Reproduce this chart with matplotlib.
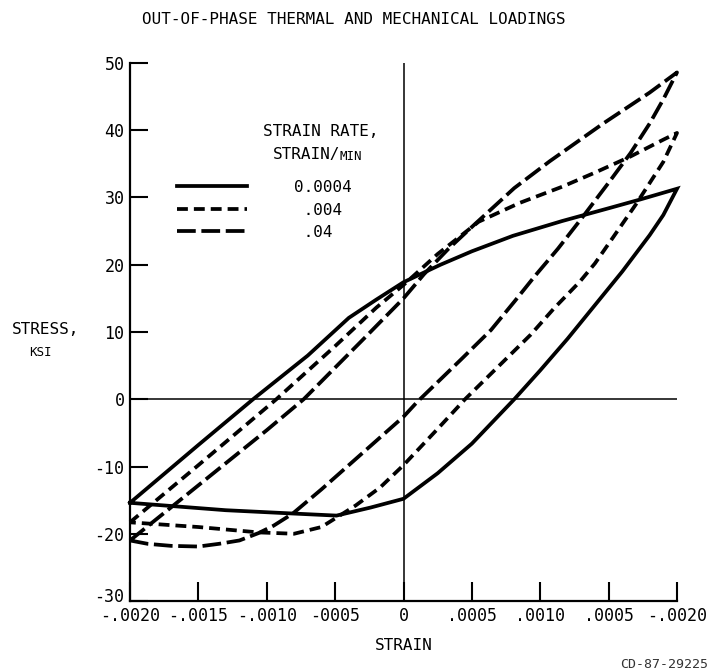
import matplotlib
matplotlib.use('Agg')
import matplotlib.pyplot as plt
import matplotlib.transforms as mtransforms

# Hysteresis loops: loading branch from -0.0020 up to +0.0020, then unloading back
strain_slow = [-0.0020, -0.0015, -0.0011, -0.0007, -0.0004, -0.0002, 0.0, 0.00027, 0.0005, 0.0008,
               0.00116, 0.0015, 0.00173, 0.0020,
               0.0019, 0.0018, 0.0016, 0.0014, 0.0012, 0.0010, 0.00081, 0.0005, 0.00025, 0.0,
               -0.00024, -0.00049, -0.0008, -0.0013, -0.0020]
stress_slow = [-15.4, -6.8, 0.0, 6.5, 12.1, 14.8, 17.4, 20.0, 22.0, 24.3,
               26.5, 28.4, 29.7, 31.3,
               27.4, 24.4, 19.0, 14.0, 9.0, 4.3, 0.0, -6.6, -11.0, -14.8,
               -16.1, -17.3, -17.0, -16.5, -15.4]

strain_mid = [-0.0020, -0.0015, -0.00093, -0.0005, -0.0002, 0.0, 0.00025, 0.00055, 0.00085, 0.00116,
              0.0014, 0.00166, 0.0019, 0.0020,
              0.0019, 0.0017, 0.00153, 0.0014, 0.00129, 0.0011, 0.00093, 0.0007, 0.00045, 0.00025, 0.0,
              -0.00017, -0.00035, -0.00049, -0.0006, -0.0008, -0.00106, -0.0015, -0.0020]
stress_mid = [-18.3, -9.8, 0.0, 7.9, 13.6, 17.0, 21.6, 26.4, 29.2, 31.6,
              33.7, 36.1, 38.6, 39.6,
              35.3, 29.0, 24.0, 20.2, 17.5, 13.5, 9.6, 5.0, 0.0, -4.4, -9.8,
              -13.1, -15.8, -17.6, -19.0, -20.0, -19.8, -19.0, -18.3]

strain_fast = [-0.0020, -0.0015, -0.0010, -0.00073, -0.0003, 0.0, 0.00015, 0.00033, 0.00052, 0.00081,
               0.00107, 0.00146, 0.0018, 0.0020,
               0.0019, 0.0018, 0.00166, 0.0015, 0.00131, 0.00113, 0.00096, 0.00081, 0.00064, 0.00042,
               0.0001, 0.0, -0.0002, -0.0004, -0.0006, -0.00081, -0.00095, -0.00106, -0.0012, -0.00135,
               -0.0015, -0.0017, -0.00187, -0.0020]
stress_fast = [-21.0, -12.8, -4.6, 0.0, 8.8, 15.0, 18.6, 22.4, 26.0, 31.4,
               35.4, 41.0, 45.6, 48.6,
               44.6, 41.0, 36.6, 32.2, 27.1, 22.4, 18.3, 14.5, 10.3, 5.9,
               -0.4, -2.6, -6.2, -9.8, -13.4, -17.0, -18.8, -19.9, -21.0, -21.5,
               -21.9, -21.8, -21.5, -21.0]

rate_labels = ['0.0004', ' .004', ' .04']

x_ticks = [-0.0020, -0.0015, -0.0010, -0.0005, 0.0, 0.0005, 0.0010, 0.0015, 0.0020]
x_tick_labels = ['-.0020', '-.0015', '-.0010', '-0005', '0', '.0005', '.0010', '.0005', '-.0020']
y_ticks = [50, 40, 30, 20, 10, 0, -10, -20, -30]
y_tick_labels = ['50', '40', '30', '20', '10', '0', '-10', '-20', '-30']

plt.rcParams['font.family'] = ['DejaVu Sans Mono', 'DejaVu Sans']

fig = plt.figure(figsize=(7.11, 6.72), dpi=100)
ax = fig.add_axes([130 / 711, 71 / 672, 547 / 711, 538 / 672])

lw = 2.7
styles = ['-', (0, (2.9, 1.6)), (0, (5.0, 1.5))]
loops = [(strain_slow, stress_slow), (strain_mid, stress_mid), (strain_fast, stress_fast)]
for (sx, sy), ls, lab in zip(loops, styles, rate_labels):
    ax.plot(sx, sy, color='black', lw=lw, linestyle=ls, label=lab,
            solid_joinstyle='miter', clip_on=False)

# zero axes through the middle
ax.axvline(0, color='black', lw=1.1, zorder=1)
ax.axhline(0, color='black', lw=1.1, zorder=1)

ax.set_xlim(-0.002, 0.002)
ax.set_ylim(-30, 50)
ax.set_xticks(x_ticks)
ax.set_xticklabels(x_tick_labels, fontsize=12)
ax.set_yticks(y_ticks)
ax.set_yticklabels(y_tick_labels, fontsize=12)
ax.tick_params(axis='x', direction='in', length=14, width=1.5, pad=4)
ax.tick_params(axis='y', direction='in', length=13, width=1.5, pad=4)
for side in ['top', 'right']:
    ax.spines[side].set_visible(False)
for side in ['left', 'bottom']:
    ax.spines[side].set_linewidth(1.6)

# lift the lowest stress label clear of the strain labels
low_lab = ax.get_yticklabels()[-1]
low_lab.set_transform(low_lab.get_transform() +
                      mtransforms.ScaledTranslation(0, 4 / 72, fig.dpi_scale_trans))

leg = ax.legend(loc='upper left', bbox_to_anchor=(177 / 711, 1 - 180 / 672),
                bbox_transform=fig.transFigure, frameon=False, fontsize=11.5,
                handlelength=4.4, handletextpad=2.9, labelspacing=0.47,
                borderpad=0, borderaxespad=0)

# legend heading
fig.text(321 / 711, 1 - 131 / 672, 'STRAIN RATE,', fontsize=11.5, ha='center', va='center')
fig.text(273 / 711, 1 - 155 / 672, 'STRAIN/', fontsize=11.5, ha='left', va='center')
fig.text(340 / 711, 1 - 156 / 672, 'MIN', fontsize=9, ha='left', va='center')

fig.text(354 / 711, 1 - 20 / 672, 'OUT-OF-PHASE THERMAL AND MECHANICAL LOADINGS',
         fontsize=11.5, ha='center', va='center')
fig.text(12 / 711, 1 - 330 / 672, 'STRESS,', fontsize=11.5, ha='left', va='center')
fig.text(40 / 711, 1 - 353 / 672, 'KSI', fontsize=9, ha='center', va='center')
fig.text(404 / 711, 1 - 645 / 672, 'STRAIN', fontsize=11.5, ha='center', va='center')
fig.text(708 / 711, 1 - 664 / 672, 'CD-87-29225', fontsize=9.5, ha='right', va='center',
         color='#333333')

fig.savefig('out.png', dpi=100)
